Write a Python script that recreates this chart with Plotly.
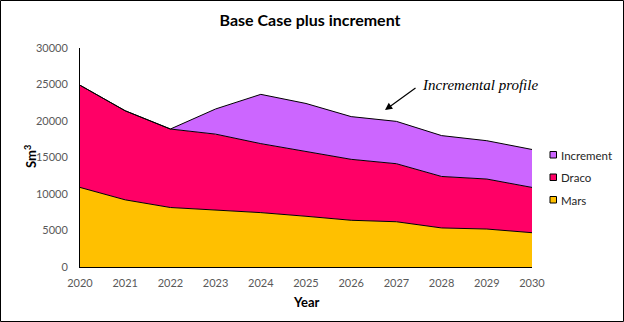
import plotly.graph_objects as go

years = [2020, 2021, 2022, 2023, 2024, 2025, 2026, 2027, 2028, 2029, 2030]
mars = [10900, 9200, 8150, 7850, 7450, 6950, 6400, 6200, 5350, 5200, 4700]
draco = [14000, 12200, 10750, 10350, 9450, 8850, 8350, 7950, 7050, 6850, 6200]
increment = [0, 0, 0, 3450, 6750, 6600, 5850, 5800, 5600, 5250, 5200]
series_names = ["Mars", "Draco", "Increment"]
series_colors = ["#FFC000", "#FF0066", "#CC66FF"]
y_ticks = [0, 5000, 10000, 15000, 20000, 25000, 30000]

W, H = 624, 322
L, R, T, B = 80, 92, 48, 55
PW, PH = W - L - R, H - T - B

def px(x):
    return (x - L) / PW

def py(y):
    return (H - B - y) / PH

fig = go.Figure()
for name, vals, col in zip(series_names, [mars, draco, increment], series_colors):
    fig.add_trace(go.Scatter(
        x=years, y=vals, name=name, stackgroup="one", mode="lines",
        line=dict(color="#000000", width=1), fillcolor=col, showlegend=False,
    ))

font_family = "Lato, Open Sans, sans-serif"
annotations = [
    dict(text="<b>Year</b>", x=px(306), y=py(302), xref="paper", yref="paper",
         showarrow=False, font=dict(size=13, color="#000000"), xanchor="center", yanchor="middle"),
    dict(text="<b>Sm<sup>3</sup></b>", x=px(30), y=py(157), xref="paper", yref="paper",
         showarrow=False, textangle=-90, font=dict(size=13, color="#000000"),
         xanchor="center", yanchor="middle"),
    dict(text="<i>Incremental profile</i>", x=px(480), y=py(85), xref="paper", yref="paper",
         showarrow=False, font=dict(family="Liberation Serif, serif", size=15, color="#000000"),
         xanchor="center", yanchor="middle"),
    dict(text="&#8203;", x=px(385), y=py(110), xref="paper", yref="paper",
         showarrow=True, ax=32, ay=-23, arrowhead=2, arrowsize=1.2, arrowwidth=1.2,
         arrowcolor="#000000", font=dict(size=2)),
]
shapes = [
    dict(type="rect", xref="paper", yref="paper",
         x0=px(0.5), x1=px(W - 0.5), y0=py(H - 0.5), y1=py(0.5),
         line=dict(color="#000000", width=1), fillcolor="rgba(0,0,0,0)", layer="above"),
]
# legend (reverse order: Increment, Draco, Mars)
legend_rows = [155, 177.5, 200]
for row_y, name, col in zip(legend_rows, series_names[::-1], series_colors[::-1]):
    shapes.append(dict(type="rect", xref="paper", yref="paper",
                       x0=px(550), x1=px(556.5), y0=py(row_y + 3), y1=py(row_y - 3.5),
                       line=dict(color="#000000", width=1), fillcolor=col))
    annotations.append(dict(text=name, x=px(559), y=py(row_y), xref="paper", yref="paper",
                            showarrow=False, xanchor="left", yanchor="middle",
                            font=dict(size=11.5, color="#262626")))

fig.update_layout(
    width=W, height=H,
    margin=dict(l=L, r=R, t=T, b=B),
    paper_bgcolor="white", plot_bgcolor="white",
    showlegend=False,
    font=dict(family=font_family, size=11, color="#595959"),
    title=dict(text="<b>Base Case plus increment</b>", x=310 / W, xanchor="center",
               y=1 - 20 / H, yanchor="middle",
               font=dict(family=font_family, size=16, color="#000000")),
    xaxis=dict(range=[2020, 2030], tickvals=years, showgrid=False, zeroline=False,
               showline=True, linecolor="#000000", linewidth=1, ticks="",
               ticklabelstandoff=6, tickfont=dict(size=11, color="#595959")),
    yaxis=dict(range=[0, 30000], tickvals=y_ticks, tickformat="d", showgrid=False, zeroline=False,
               showline=True, linecolor="#000000", linewidth=1, ticks="",
               ticklabelstandoff=9, tickfont=dict(size=11, color="#595959")),
    annotations=annotations,
    shapes=shapes,
)

fig.write_html("out.html")
